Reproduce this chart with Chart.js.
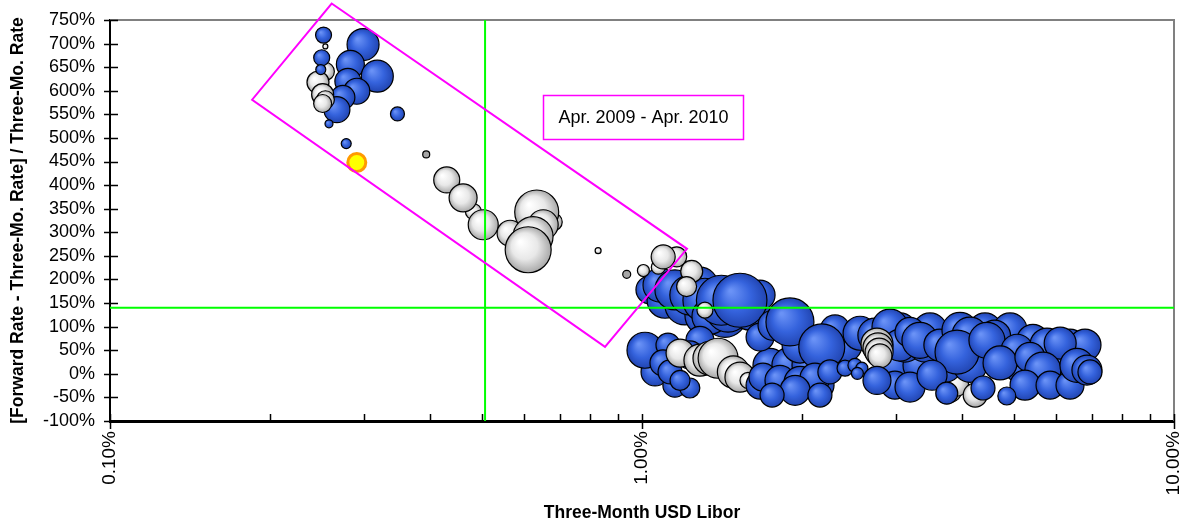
<!DOCTYPE html>
<html>
<head>
<meta charset="utf-8">
<script src="https://cdn.jsdelivr.net/npm/chart.js@4"></script>
<style>
  html, body { margin: 0; padding: 0; background: #fff; }
  #wrap { width: 1182px; height: 527px; }
</style>
</head>
<body>
<div id="wrap"><canvas id="bubbleChart"></canvas></div>
<script>
// each point: [three-month libor %, spread %, bubble radius]
const whitesBack = [
  [3.79, -35, 12], [3.90, -22, 12], [4.23, -45, 12]
];
const blueBack = [
  [0.252, 718, 8], [0.299, 698, 16], [0.283, 656, 14], [0.318, 631, 16],
  [0.280, 620, 13], [0.291, 599, 13], [0.274, 586, 12], [0.267, 560, 13],
  [0.347, 551, 7], [0.278, 488, 5],
  [1.035, 178, 14], [1.105, 156, 18], [1.204, 146, 20], [1.313, 124, 20],
  [1.432, 124, 22], [1.596, 135, 20], [1.667, 167, 15],
  [1.081, 188, 17], [1.153, 178, 20], [1.285, 188, 18], [1.23, 167, 20],
  [1.313, 156, 22], [1.342, 122, 18], [1.451, 135, 22], [1.41, 156, 25],
  [1.528, 156, 27],
  [1.058, 4, 14], [1.153, -24, 12], [1.23, -30, 10], [1.285, 71, 14],
  [1.013, 50, 18], [1.119, 61, 12], [1.095, 23, 13], [1.129, 4, 12],
  [1.179, -14, 10], [1.23, 40, 14],
  [1.74, 18, 17], [1.897, 18, 18], [2.069, 18, 18], [2.989, 18, 17],
  [3.331, 18, 17], [3.711, 18, 17], [4.135, 18, 17], [5.135, 18, 17],
  [6.106, 18, 17],
  [1.982, 61, 18], [2.408, 61, 17], [3.122, 61, 17], [3.404, 61, 17],
  [4.609, 61, 17], [6.376, 61, 16], [6.803, 61, 16],
  [3.055, 93, 17], [3.478, 93, 17], [4.413, 93, 17], [4.918, 93, 17],
  [1.667, 78, 14], [1.763, 103, 15], [1.897, 110, 24], [2.306, 93, 15],
  [2.177, 57, 23], [2.57, 86, 17], [2.74, 82, 17], [2.925, 99, 18],
  [3.055, 61, 16], [3.19, 88, 15], [3.33, 71, 18], [3.63, 61, 16],
  [3.96, 92, 18], [4.135, 82, 18], [4.6, 80, 16], [3.91, 46, 22],
  [4.45, 71, 18], [5.43, 71, 16], [5.07, 50, 16], [5.77, 61, 17],
  [6.11, 65, 16], [4.71, 23, 17], [5.36, 35, 15], [5.67, 8, 18],
  [5.248, -24, 15], [5.848, -24, 14], [6.376, -24, 14],
  [6.57, 18, 17], [6.86, 8, 15], [6.95, 4, 12]
];
const whites = [
  [0.254, 694, 2.5], [0.254, 641, 9], [0.246, 618, 11], [0.251, 592, 11],
  [0.254, 581, 9], [0.251, 573, 9],
  [0.4295, 411, 13], [0.482, 344, 8], [0.461, 373, 14], [0.503, 316, 15],
  [0.565, 298, 13], [0.681, 322, 9], [0.634, 343, 22], [0.652, 316, 15],
  [0.624, 291, 20], [0.611, 263, 23], [0.827, 261, 3],
  [1.006, 219, 6], [1.073, 226, 7], [1.162, 248, 10], [1.096, 248, 12],
  [1.24, 217, 11], [1.213, 185, 10], [1.313, 135, 8],
  [1.179, 44, 14], [1.285, 29, 16], [1.342, 33, 17], [1.39, 33, 20],
  [1.485, 4, 16], [1.528, -7, 15], [1.582, -14, 8],
  [2.765, 63, 16], [2.777, 55, 15], [2.79, 46, 14], [2.80, 38, 12]
];
const blueFront = [
  [0.250, 670, 8], [0.249, 645, 5], [0.258, 530, 4],
  [1.667, -24, 14], [1.817, -24, 14], [2.161, -24, 14],
  [1.688, -7, 14], [1.817, -14, 15], [1.982, -18, 16], [2.114, -9, 15],
  [1.94, -35, 15], [1.756, -45, 12], [2.16, -45, 12], [2.255, 4, 12],
  [2.408, 12, 8], [2.513, 18, 7], [2.59, 12, 6], [2.54, 1, 6],
  [2.989, -24, 14],
  [2.765, -14, 14], [3.19, -28, 15], [3.509, -3, 15], [3.74, -41, 11],
  [4.375, -30, 12], [4.85, -47, 9]
];
const grayDots = [[0.393, 465, 3.5], [0.936, 211, 4]];
const highlight = [[0.291, 448, 9]];

const xTicks = [0.1, 1, 10];
const liborLine = 0.507;
const spreadLine = 140;
const boxCorners = [[0.261, 785], [1.215, 265], [0.852, 57], [0.185, 581]];
const boxLabel = 'Apr. 2009 - Apr. 2010';
const labelAnchor = [0.652, 590];

Chart.defaults.font.family = '"Liberation Sans", Arial, sans-serif';
Chart.defaults.color = '#000';

const toPoints = arr => arr.map(p => ({ x: p[0], y: p[1], r: p[2] }));

function shade(c0, c1, c2) {
  return function (c) {
    const chart = c.chart;
    const raw = c.raw;
    if (!raw || !chart.chartArea) return c1;
    const x = chart.scales.x.getPixelForValue(raw.x);
    const y = chart.scales.y.getPixelForValue(raw.y);
    const r = raw.r;
    const g = chart.ctx.createRadialGradient(x - r * 0.35, y - r * 0.35, r * 0.05, x, y, r);
    g.addColorStop(0, c0);
    g.addColorStop(0.55, c1);
    g.addColorStop(1, c2);
    return g;
  };
}

const blueFill = shade('#6a92f6', '#3563dd', '#2145b2');
const whiteFill = shade('#ffffff', '#e8e8e8', '#a8a8a8');

// no extra room for overhanging tick labels, the frame is fixed
const noPad = s => { s.paddingLeft = 0; s.paddingRight = 0; s.paddingTop = 0; s.paddingBottom = 0; };

const overlay = {
  id: 'overlay',
  afterDraw(chart) {
    const { ctx, chartArea: a, scales: { x, y } } = chart;
    ctx.save();
    // plot frame top / right
    ctx.strokeStyle = '#808080';
    ctx.lineWidth = 2;
    ctx.beginPath();
    ctx.moveTo(a.left, a.top);
    ctx.lineTo(a.right, a.top);
    ctx.lineTo(a.right, a.bottom);
    ctx.stroke();

    // tick marks
    ctx.strokeStyle = '#000';
    ctx.lineWidth = 1.5;
    ctx.beginPath();
    y.ticks.forEach(t => {
      const py = Math.round(y.getPixelForValue(t.value)) + 0.5;
      ctx.moveTo(a.left - 6, py);
      ctx.lineTo(a.left + 8, py);
    });
    [0.1, 1].forEach(d => {
      for (let k = 2; k <= 9; k++) {
        const px = Math.round(x.getPixelForValue(d * k)) + 0.5;
        ctx.moveTo(px, a.bottom);
        ctx.lineTo(px, a.bottom - 7);
      }
    });
    xTicks.forEach(v => {
      const px = Math.round(x.getPixelForValue(v)) + 0.5;
      ctx.moveTo(px, a.bottom - 7);
      ctx.lineTo(px, a.bottom + 8);
    });
    ctx.stroke();

    // reference lines
    ctx.strokeStyle = '#00ff00';
    ctx.lineWidth = 2;
    ctx.beginPath();
    const gx = x.getPixelForValue(liborLine);
    const gy = y.getPixelForValue(spreadLine);
    ctx.moveTo(gx, a.top);
    ctx.lineTo(gx, a.bottom);
    ctx.moveTo(a.left, gy);
    ctx.lineTo(a.right, gy);
    ctx.stroke();

    // highlighted period box
    ctx.strokeStyle = '#ff00ff';
    ctx.lineWidth = 2;
    ctx.beginPath();
    boxCorners.forEach((p, i) => {
      const px = x.getPixelForValue(p[0]);
      const py = y.getPixelForValue(p[1]);
      if (i === 0) ctx.moveTo(px, py); else ctx.lineTo(px, py);
    });
    ctx.closePath();
    ctx.stroke();

    // label
    const lx = Math.round(x.getPixelForValue(labelAnchor[0])) + 0.5;
    const ly = Math.round(y.getPixelForValue(labelAnchor[1])) + 0.5;
    ctx.fillStyle = '#fff';
    ctx.fillRect(lx, ly, 200, 44);
    ctx.lineWidth = 1.5;
    ctx.strokeRect(lx, ly, 200, 44);
    ctx.fillStyle = '#000';
    ctx.font = '18px "Liberation Sans", Arial, sans-serif';
    ctx.textAlign = 'center';
    ctx.textBaseline = 'middle';
    ctx.fillText(boxLabel, lx + 100, ly + 23);
    ctx.restore();
  }
};

const base = { borderColor: '#000', borderWidth: 1.2, hoverRadius: 0 };

new Chart(document.getElementById('bubbleChart').getContext('2d'), {
  type: 'bubble',
  data: {
    datasets: [
      Object.assign({}, base, { label: 'highlight', data: toPoints(highlight), backgroundColor: '#ffff00', borderColor: '#ff9a00', borderWidth: 3 }),
      Object.assign({}, base, { label: 'gray', data: toPoints(grayDots), backgroundColor: '#a6a6a6' }),
      Object.assign({}, base, { label: 'blueFront', data: toPoints(blueFront), backgroundColor: blueFill }),
      Object.assign({}, base, { label: 'white', data: toPoints(whites), backgroundColor: whiteFill }),
      Object.assign({}, base, { label: 'blueBack', data: toPoints(blueBack), backgroundColor: blueFill }),
      Object.assign({}, base, { label: 'whiteBack', data: toPoints(whitesBack), backgroundColor: whiteFill })
    ]
  },
  options: {
    responsive: true,
    maintainAspectRatio: false,
    animation: false,
    events: [],
    layout: { autoPadding: false, padding: { top: 20, right: 8, left: 0, bottom: 0 } },
    plugins: {
      legend: { display: false },
      tooltip: { enabled: false }
    },
    scales: {
      x: {
        type: 'logarithmic',
        min: 0.1,
        max: 10,
        afterBuildTicks: s => { s.ticks = xTicks.map(v => ({ value: v })); },
        afterFit: s => { s.height = 106; noPad(s); },
        grid: { display: false, drawTicks: false },
        border: { display: true, color: '#000', width: 3 },
        ticks: {
          autoSkip: false,
          minRotation: 90,
          maxRotation: 90,
          padding: 10,
          font: { size: 19 },
          callback: v => Number(v).toFixed(2) + '%'
        },
        title: {
          display: true,
          text: 'Three-Month USD Libor',
          font: { size: 17.5, weight: 'bold' },
          padding: { top: 0, bottom: 3.5 }
        }
      },
      y: {
        min: -100,
        max: 750,
        afterFit: s => { s.width = 110; noPad(s); },
        grid: { display: false, drawTicks: false },
        border: { display: true, color: '#000', width: 2 },
        ticks: {
          autoSkip: false,
          stepSize: 50,
          padding: 15,
          font: { size: 18 },
          callback: v => v + '%'
        },
        title: {
          display: true,
          text: '[Forward Rate - Three-Mo. Rate] / Three-Mo. Rate',
          font: { size: 17.5, weight: 'bold' },
          padding: { top: 7.5, bottom: 0 }
        }
      }
    }
  },
  plugins: [overlay]
});
</script>
</body>
</html>
